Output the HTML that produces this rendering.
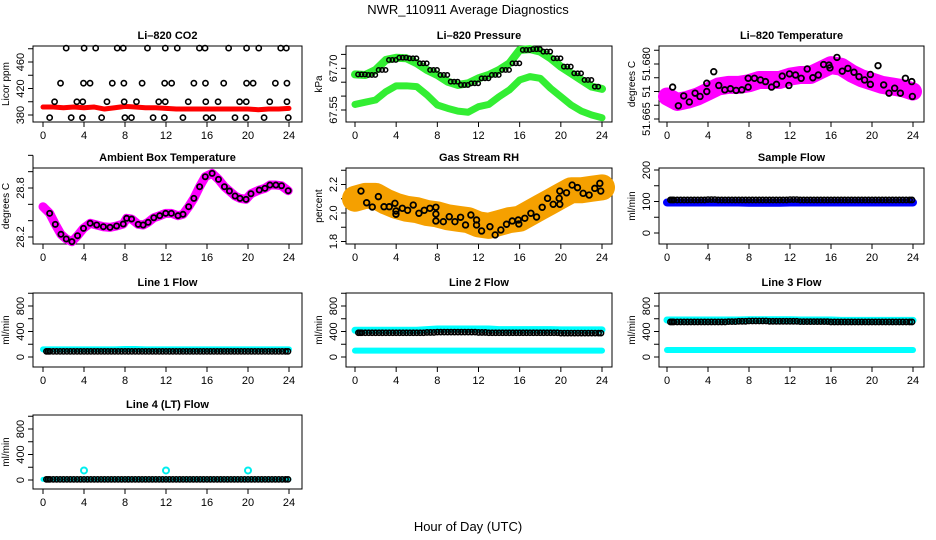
<!DOCTYPE html>
<html><head><meta charset="utf-8"><style>
html,body{margin:0;padding:0;background:#fff;}
svg{display:block;font-family:"Liberation Sans",sans-serif;}
</style></head><body>
<svg id="c" width="936" height="540" viewBox="0 0 936 540" xmlns="http://www.w3.org/2000/svg">
<text x="468" y="14" text-anchor="middle" font-size="13">NWR_110911  Average Diagnostics</text>
<text x="468" y="531" text-anchor="middle" font-size="13">Hour of Day (UTC)</text>
</svg>
<script>
const HOURS=[0,1,2,3,4,5,6,7,8,9,10,11,12,13,14,15,16,17,18,19,20,21,22,23,24];
const XTICKS=[0,4,8,12,16,20,24];
// CO2
const co2Line=[392,392,391,392,391,392,389,391,393,392,391,391,390,389,389,389,389,389,389,389,389,388,389,389,390];
const co2HiH=[2.26,4.01,5.14,7.24,7.83,10.19,11.93,13.1,15.26,15.81,18.11,19.86,21.05,23.19,23.74];
const co2MidH=[1.71,3.95,4.59,6.76,7.89,9.67,11.87,12.55,14.72,15.85,17.63,19.86,20.5,22.67,23.8];
const co2LowH=[1.13,3.3,3.88,6.24,7.92,9.12,11.29,11.93,14.17,15.88,17.08,19.18,19.83,22.12,23.8];
const co2MinH=[0.65,2.75,3.85,5.72,7.99,8.63,10.74,11.84,13.65,15.91,16.56,18.73,19.8,21.57,23.93];
const co2Levels=[481,428,400,376];
// Pressure
const presUpper=[67.678,67.676,67.694,67.730,67.738,67.736,67.718,67.694,67.676,67.652,67.640,67.646,67.664,67.676,67.694,67.718,67.766,67.769,67.760,67.736,67.706,67.682,67.658,67.634,67.626];
const presLower=[67.570,67.578,67.586,67.616,67.637,67.637,67.634,67.604,67.568,67.556,67.546,67.542,67.562,67.570,67.598,67.622,67.658,67.670,67.664,67.628,67.598,67.568,67.546,67.532,67.522];
// Li-820 temperature
const tempTrend=[51.6691,51.6681,51.6685,51.6691,51.6700,51.6709,51.6712,51.6712,51.6715,51.6721,51.6721,51.6721,51.6727,51.6730,51.6730,51.6739,51.6748,51.6745,51.6733,51.6724,51.6718,51.6712,51.6709,51.6706,51.6700];
const tempPtsH=[0.55,1.11,1.63,2.18,2.74,3.22,3.88,3.88,4.56,5.05,5.64,6.19,6.74,7.3,7.92,7.92,8.53,9.12,9.61,10.2,10.68,11.24,11.89,11.95,12.54,13.09,13.68,14.23,14.76,15.28,15.8,15.9,16.58,17.1,17.65,18.24,18.73,19.28,19.84,19.84,20.59,21.14,21.66,22.21,22.77,23.26,23.88,23.94];
const tempPtsV=[51.6708,51.6674,51.6692,51.6681,51.6697,51.6691,51.6700,51.6715,51.6736,51.6711,51.6703,51.6705,51.6702,51.6703,51.6708,51.6724,51.6724,51.6721,51.6718,51.6708,51.6713,51.6728,51.6711,51.6732,51.6730,51.6724,51.6741,51.6725,51.6730,51.6749,51.6748,51.6743,51.6762,51.6737,51.6742,51.6735,51.6727,51.6721,51.6713,51.6731,51.6747,51.6712,51.6697,51.6706,51.6697,51.6724,51.6718,51.6691];
// Ambient box temperature
const ambH=[0,0.65,1.2,1.75,2.27,2.82,3.37,3.95,4.6,5.24,5.89,6.54,7.18,7.83,8.16,8.64,9.29,9.77,10.26,10.81,11.39,11.97,12.52,13.17,13.66,14.21,14.72,15.28,15.83,16.5,17.12,17.7,18.19,18.74,19.22,19.81,20.29,21.1,21.65,22.14,22.72,23.27,23.92];
const ambV=[28.571,28.490,28.355,28.233,28.176,28.143,28.216,28.306,28.368,28.347,28.326,28.318,28.335,28.359,28.429,28.420,28.355,28.347,28.380,28.436,28.461,28.490,28.490,28.461,28.478,28.571,28.673,28.816,28.938,28.979,28.906,28.816,28.763,28.702,28.673,28.661,28.730,28.775,28.796,28.836,28.836,28.828,28.767];
// Gas stream RH
const rhTrend=[2.10,2.12,2.12,2.08,2.05,2.03,2.02,2.00,1.99,1.97,1.96,1.95,1.92,1.91,1.93,1.95,1.96,2.00,2.04,2.08,2.12,2.16,2.16,2.17,2.18];
const rhPtsH=[0.58,1.13,1.68,2.27,2.82,3.33,3.88,3.98,3.98,4.6,5.11,5.66,6.21,6.73,7.28,7.86,7.86,7.86,8.58,9.16,9.71,10.26,10.74,11.26,11.81,11.81,12.3,13.11,13.62,14.17,14.72,15.28,15.86,15.92,16.5,17.09,17.64,18.19,18.71,19.26,19.84,19.9,19.9,20.55,21.1,21.62,22.17,22.75,23.3,23.79,23.88];
const rhPtsV=[2.154,2.072,2.042,2.115,2.044,2.044,2.068,2.014,1.991,2.033,2.019,2.056,1.998,2.019,2.033,2.040,1.993,1.944,1.939,1.974,1.939,1.970,1.916,1.986,1.951,1.916,1.874,1.904,1.846,1.881,1.921,1.944,1.951,1.923,1.963,1.998,1.972,2.040,2.103,2.061,2.103,2.154,2.061,2.142,2.196,2.178,2.138,2.126,2.173,2.208,2.154];
// Flows (hourly)
const sampleBlue=[97,97,97,97,97,97,97,97,96,96,96,96,97,97,97,97,97,97,97,97,97,97,97,97,97];
const sampleBlack=[105,105,105,105,106,105,105,105,105,105,105,105,106,105,105,105,105,105,105,105,105,105,105,105,105];
const l1Cyan=[120,120,120,120,120,120,120,120,125,125,120,120,120,120,120,120,120,120,120,120,120,120,120,120,120];
const l1Black=[88,88,88,88,88,88,88,88,88,88,88,88,88,88,88,88,88,88,88,88,88,88,88,88,88];
const l2CyanHi=[420,420,420,420,420,420,420,430,440,440,440,440,440,440,430,430,430,430,430,430,425,425,425,425,425];
const l2CyanLo=[100,100,100,100,100,100,100,100,100,100,100,100,100,100,100,100,100,100,100,100,100,100,100,100,100];
const l2Black=[380,380,380,380,380,380,380,385,390,390,390,390,385,380,380,380,380,380,380,380,375,375,375,375,375];
const l3CyanHi=[580,580,580,580,580,580,580,580,585,585,585,585,585,580,580,580,580,575,575,575,575,575,575,575,575];
const l3CyanLo=[110,110,110,110,110,110,110,110,110,110,110,110,110,110,110,110,110,110,110,110,110,110,110,110,110];
const l3Black=[550,550,550,550,550,550,555,560,565,565,560,560,560,555,555,555,550,550,550,550,550,550,550,550,550];
const l4Cyan=[10,10,10,10,10,10,10,10,10,10,10,10,10,10,10,10,10,10,10,10,10,10,10,10,10];
const l4Black=[10,10,10,10,10,10,10,10,10,10,10,10,10,10,10,10,10,10,10,10,10,10,10,10,10];
const l4SpikeH=[4,12,20];
const l4SpikeV=[150,150,150];

const NS='http://www.w3.org/2000/svg';
const svg=document.getElementById('c');
function mk(tag,attrs,parent){const e=document.createElementNS(NS,tag);for(const k in attrs)e.setAttribute(k,attrs[k]);(parent||svg).appendChild(e);return e;}
const COLS=[{L:33,R:302,x0:43,x24:289},{L:346,R:612,x0:355,x24:602},{L:659,R:924,x0:667,x24:913}];
const ROWS=[{T:46,B:122},{T:168,B:244},{T:293,B:367},{T:415,B:489}];

function panel(name,c,r,title,ylab,v1,p1,v2,p2,ticks,labels,labelTexts){
  const C=COLS[c],R=ROWS[r];
  const g=mk('g',{});
  
  
  const sx=h=>C.x0+(C.x24-C.x0)*h/24;
  const sy=v=>p1+(p2-p1)*(v-v1)/(v2-v1);
  const t=mk('text',{x:(C.L+C.R)/2,y:R.T-7,'text-anchor':'middle','font-size':11,'font-weight':'bold'},g);
  t.textContent=title;
  
  
  const box=mk('rect',{x:C.L,y:R.T,width:C.R-C.L,height:R.B-R.T,fill:'none',stroke:'#000','stroke-width':1},g);
  
  
  const xa=mk('g',{},g);
  
  
  XTICKS.forEach(h=>{
    mk('line',{x1:sx(h),x2:sx(h),y1:R.B,y2:R.B+5,stroke:'#000'},xa);
    const tx=mk('text',{x:sx(h),y:R.B+17,'text-anchor':'middle','font-size':11},xa);
    tx.textContent=h;
  });
  const ya=mk('g',{},g);
  
  
  mk('line',{x1:C.L,x2:C.L,y1:sy(ticks[0]),y2:sy(ticks[ticks.length-1]),stroke:'#000'},ya);
  ticks.forEach(v=>mk('line',{x1:C.L-5,x2:C.L,y1:sy(v),y2:sy(v),stroke:'#000'},ya));
  labels.forEach((v,i)=>{
    const x=C.L-9,y=sy(v);
    const tx=mk('text',{x:x,y:y,'text-anchor':'middle','font-size':11,transform:`rotate(-90 ${x} ${y})`},ya);
    tx.textContent=labelTexts?labelTexts[i]:v;
  });
  const yl=mk('text',{x:C.L-24,y:(R.T+R.B)/2,'text-anchor':'middle','font-size':10,transform:`rotate(-90 ${C.L-24} ${(R.T+R.B)/2})`},g);
  yl.textContent=ylab;
  
  
  const plot=mk('g',{},g);
  return {sx,sy,g:plot};
}
function band(P,hs,vs,color,w,name){
  const pts=hs.map((h,i)=>P.sx(h)+','+P.sy(vs[i])).join(' ');
  const e=mk('polyline',{points:pts,fill:'none',stroke:color,'stroke-width':w,'stroke-linejoin':'round','stroke-linecap':'round'},P.g);
  
  
  return e;
}
function circ(P,h,v,color,r,sw,name){
  const e=mk('circle',{cx:P.sx(h),cy:P.sy(v),r:r||2.6,fill:'none',stroke:color||'#000','stroke-width':sw||1.6},P.g);
  
  
  return e;
}
function heldCircles(P,vals,name){
  for(let i=0;i<24;i++){for(let k=0;k<3;k++){const h=i+k/3+(k===0&&i===0?0.5:0);if(h>23.9)continue;circ(P,h,vals[i],'#000',2.6,1.6,name);}}
  circ(P,23.9,vals[24],'#000',2.6,1.6,name);
}

// Row 1
let P=panel('co2',0,0,'Li\u2013820 CO2','Licor ppm',380,115,460,62,[380,400,420,440,460,480],[380,420,460]);
band(P,HOURS,co2Line,'#ff0000',5,'co2-red-series');
[co2HiH,co2MidH,co2LowH,co2MinH].forEach((arr,j)=>arr.forEach(h=>circ(P,h,co2Levels[j],'#000',2.6,1.6,'co2-point')));

P=panel('pressure',1,0,'Li\u2013820 Pressure','kPa',67.55,110,67.70,68.3,[67.55,67.60,67.65,67.70,67.75],[67.55,67.70],['67.55','67.70']);
band(P,HOURS,presLower,'#33ee33',7,'pressure-lower-series');
band(P,HOURS,presUpper,'#33ee33',8,'pressure-upper-series');
for(let i=0;i<24;i++){for(let k=0;k<3;k++){const h=i+k/3+0.3;if(h>23.9)continue;circ(P,h,presUpper[i],'#000',2.2,1.5,'pressure-point');}}

P=panel('temperature',2,0,'Li\u2013820 Temperature','degrees C',51.665,119,51.675,64,[51.665,51.6675,51.67,51.6725,51.675,51.6775],[51.665,51.67,51.675],['51.665','51','51.680']);
band(P,HOURS,tempTrend,'#ff00ff',18,'temperature-magenta-series');
tempPtsH.forEach((h,i)=>circ(P,h,tempPtsV[i],'#000',2.8,1.8,'temperature-point'));

// Row 2
P=panel('ambient',0,1,'Ambient Box Temperature','degrees C',28.2,237,28.8,188,[28.2,28.4,28.6,28.8,29.0,29.2],[28.2,28.8],['28.2','28.8']);
band(P,ambH,ambV,'#ff00ff',9,'ambient-magenta-series');
ambH.forEach((h,i)=>{if(i>0)circ(P,h,ambV[i],'#000',2.6,1.8,'ambient-point');});

P=panel('rh',1,1,'Gas Stream RH','percent',2.0,213,1.8,241.5,[1.8,1.9,2.0,2.1,2.2,2.3],[1.8,2.0,2.2],['1.8','2.0','2.2']);
band(P,HOURS,rhTrend,'#f5a000',26,'rh-orange-series');
rhPtsH.forEach((h,i)=>circ(P,h,rhPtsV[i],'#000',2.8,1.8,'rh-point'));

P=panel('sample-flow',2,1,'Sample Flow','ml/min',0,233,200,170,[0,50,100,150,200],[0,100,200]);
band(P,HOURS,sampleBlue,'#0000ff',8,'sample-flow-blue-series');
heldCircles(P,sampleBlack,'sample-flow-point');

// Row 3
const FT=[0,200,400,600,800,1000],FL=[0,400,800];
P=panel('line1',0,2,'Line 1 Flow','ml/min',0,357,800,306,FT,FL);
band(P,HOURS,l1Cyan,'#00ffff',6,'line1-cyan-series');
heldCircles(P,l1Black,'line1-point');

P=panel('line2',1,2,'Line 2 Flow','ml/min',0,357,800,306,FT,FL);
band(P,HOURS,l2CyanHi,'#00ffff',7,'line2-cyan-upper-series');
band(P,HOURS,l2CyanLo,'#00ffff',6,'line2-cyan-lower-series');
heldCircles(P,l2Black,'line2-point');

P=panel('line3',2,2,'Line 3 Flow','ml/min',0,357,800,306,FT,FL);
band(P,HOURS,l3CyanHi,'#00ffff',7,'line3-cyan-upper-series');
band(P,HOURS,l3CyanLo,'#00ffff',6,'line3-cyan-lower-series');
heldCircles(P,l3Black,'line3-point');

// Row 4
P=panel('line4',0,3,'Line 4 (LT) Flow','ml/min',0,480,800,429,FT,FL);
band(P,HOURS,l4Cyan,'#00ffff',5,'line4-cyan-series');
heldCircles(P,l4Black,'line4-point');
l4SpikeH.forEach((h,i)=>circ(P,h,l4SpikeV[i],'#00eeee',3,2,'line4-spike-point'));
</script>
</body></html>
